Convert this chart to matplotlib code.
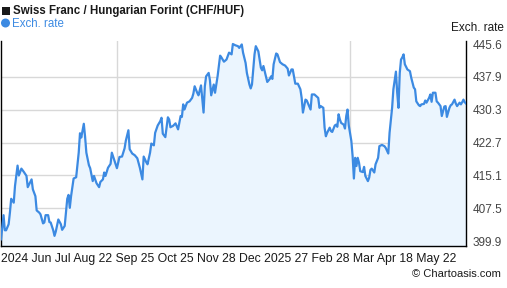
import matplotlib
matplotlib.use("Agg")
import matplotlib.pyplot as plt
from matplotlib.patches import Rectangle, Ellipse
import pandas as pd

plt.rcParams["font.family"] = ["Liberation Sans", "DejaVu Sans"]

TITLE = "Swiss Franc / Hungarian Forint (CHF/HUF)"
SERIES_NAME = "Exch. rate"

dates = [
    "2024-05-22", "2024-05-24", "2024-05-25", "2024-05-26", "2024-05-28", "2024-05-29",
    "2024-05-30", "2024-06-01", "2024-06-02", "2024-06-04", "2024-06-05", "2024-06-07",
    "2024-06-09", "2024-06-11", "2024-06-12", "2024-06-15", "2024-06-16", "2024-06-18",
    "2024-06-19", "2024-06-21", "2024-06-22", "2024-06-24", "2024-06-25", "2024-06-26",
    "2024-06-28", "2024-06-29", "2024-06-30", "2024-07-02", "2024-07-03", "2024-07-04",
    "2024-07-06", "2024-07-08", "2024-07-09", "2024-07-11", "2024-07-13", "2024-07-14",
    "2024-07-15", "2024-07-16", "2024-07-18", "2024-07-20", "2024-07-22", "2024-07-23",
    "2024-07-24", "2024-07-26", "2024-07-27", "2024-07-28", "2024-07-30", "2024-07-31",
    "2024-08-02", "2024-08-03", "2024-08-05", "2024-08-07", "2024-08-08", "2024-08-10",
    "2024-08-11", "2024-08-12", "2024-08-14", "2024-08-16", "2024-08-17", "2024-08-19",
    "2024-08-20", "2024-08-21", "2024-08-23", "2024-08-25", "2024-08-27", "2024-08-28",
    "2024-08-30", "2024-08-31", "2024-09-02", "2024-09-04", "2024-09-06", "2024-09-08",
    "2024-09-10", "2024-09-11", "2024-09-13", "2024-09-14", "2024-09-16", "2024-09-17",
    "2024-09-19", "2024-09-20", "2024-09-22", "2024-09-24", "2024-09-25", "2024-09-26",
    "2024-09-28", "2024-09-30", "2024-10-01", "2024-10-02", "2024-10-04", "2024-10-06",
    "2024-10-08", "2024-10-10", "2024-10-11", "2024-10-12", "2024-10-13", "2024-10-15",
    "2024-10-17", "2024-10-19", "2024-10-20", "2024-10-21", "2024-10-23", "2024-10-24",
    "2024-10-26", "2024-10-28", "2024-10-29", "2024-10-30", "2024-11-01", "2024-11-02",
    "2024-11-03", "2024-11-05", "2024-11-06", "2024-11-08", "2024-11-10", "2024-11-11",
    "2024-11-13", "2024-11-15", "2024-11-17", "2024-11-19", "2024-11-20", "2024-11-22",
    "2024-11-24", "2024-11-25", "2024-11-27", "2024-11-28", "2024-11-30", "2024-12-01",
    "2024-12-03", "2024-12-04", "2024-12-05", "2024-12-07", "2024-12-08", "2024-12-10",
    "2024-12-12", "2024-12-13", "2024-12-14", "2024-12-16", "2024-12-17", "2024-12-19",
    "2024-12-20", "2024-12-21", "2024-12-22", "2024-12-24", "2024-12-25", "2024-12-27",
    "2024-12-29", "2024-12-31", "2025-01-02", "2025-01-03", "2025-01-05", "2025-01-06",
    "2025-01-08", "2025-01-10", "2025-01-12", "2025-01-13", "2025-01-14", "2025-01-16",
    "2025-01-17", "2025-01-20", "2025-01-21", "2025-01-23", "2025-01-26", "2025-01-27",
    "2025-01-28", "2025-01-30", "2025-01-31", "2025-02-01", "2025-02-02", "2025-02-04",
    "2025-02-05", "2025-02-06", "2025-02-08", "2025-02-09", "2025-02-10", "2025-02-11",
    "2025-02-12", "2025-02-13", "2025-02-15", "2025-02-16", "2025-02-17", "2025-02-18",
    "2025-02-19", "2025-02-21", "2025-02-22", "2025-02-23", "2025-02-24", "2025-02-25",
    "2025-02-26", "2025-02-27", "2025-02-28", "2025-03-02", "2025-03-03", "2025-03-04",
    "2025-03-06", "2025-03-07", "2025-03-08", "2025-03-09", "2025-03-11", "2025-03-12",
    "2025-03-14", "2025-03-15", "2025-03-17", "2025-03-19", "2025-03-20", "2025-03-22",
    "2025-03-23", "2025-03-25", "2025-03-26", "2025-03-28", "2025-03-29", "2025-03-30",
    "2025-03-31", "2025-04-01", "2025-04-02", "2025-04-03", "2025-04-04", "2025-04-06",
    "2025-04-08", "2025-04-09", "2025-04-11", "2025-04-12", "2025-04-13", "2025-04-15",
    "2025-04-16", "2025-04-17", "2025-04-19", "2025-04-20", "2025-04-21", "2025-04-23",
    "2025-04-24", "2025-04-25", "2025-04-26", "2025-04-28", "2025-04-29", "2025-04-30",
    "2025-05-02", "2025-05-03", "2025-05-05", "2025-05-06", "2025-05-07", "2025-05-09",
    "2025-05-10", "2025-05-11", "2025-05-13", "2025-05-14", "2025-05-15", "2025-05-17",
    "2025-05-18", "2025-05-19", "2025-05-20", "2025-05-21", "2025-05-22",
]

rates = [
    400.3, 405.9, 402.4, 402.4, 403.8, 406.5,
    409.7, 408.8, 412.7, 417.4, 415.1, 416.7,
    415.9, 415.0, 412.4, 414.2, 411.9, 410.3,
    407.0, 406.5, 406.1, 404.0, 404.2, 405.9,
    405.9, 404.3, 404.2, 402.4, 401.1, 402.1,
    404.9, 403.8, 402.5, 403.4, 409.7, 410.6,
    407.6, 410.3, 414.4, 414.7, 420.4, 424.9,
    423.9, 427.1, 424.1, 420.4, 417.5, 416.8,
    413.8, 415.0, 413.3, 412.4, 413.6, 414.2,
    415.8, 415.0, 416.9, 417.8, 420.4, 418.6,
    417.7, 416.8, 419.4, 419.5, 421.4, 423.2,
    425.6, 421.2, 420.2, 419.8, 419.1, 416.9,
    414.2, 419.5, 418.2, 417.7, 420.4, 422.5,
    422.1, 425.0, 426.7, 427.7, 428.5, 424.8,
    424.0, 428.6, 428.1, 426.3, 426.6, 427.2,
    425.8, 428.9, 428.7, 431.6, 430.4, 432.0,
    432.3, 433.1, 434.1, 435.8, 434.3, 433.7,
    436.0, 429.7, 435.8, 438.1, 438.9, 437.2,
    433.7, 436.2, 434.3, 438.1, 442.9, 442.5,
    441.5, 442.0, 443.6, 443.2, 445.6, 445.3,
    445.1, 444.7, 445.5, 443.6, 441.2, 438.9,
    436.2, 435.3, 436.2, 443.2, 445.1, 443.9,
    440.1, 439.5, 440.5, 438.1, 436.8, 437.5,
    438.1, 437.5, 440.9, 443.4, 443.2, 441.4,
    440.9, 440.6, 439.9, 438.3, 439.7, 439.7,
    436.4, 436.4, 435.1, 433.1, 429.7, 432.7,
    432.5, 430.4, 433.9, 433.9, 433.1, 430.8,
    431.2, 430.8, 426.2, 424.2, 425.0, 426.2,
    425.4, 425.2, 426.7, 426.9, 426.4, 429.3,
    428.1, 427.3, 426.9, 426.0, 428.9, 430.4,
    426.7, 423.1, 419.6, 414.4, 419.2, 417.3,
    419.2, 418.1, 416.1, 415.9, 417.1, 415.0,
    413.8, 414.6, 416.4, 416.7, 415.8, 417.7,
    419.2, 421.9, 422.2, 421.9, 421.5, 420.2,
    425.0, 430.8, 435.1, 439.2, 434.3, 430.8,
    438.9, 442.0, 442.5, 443.2, 440.9, 439.7,
    439.3, 437.8, 435.5, 435.1, 432.3, 431.4,
    431.2, 431.6, 431.7, 432.5, 432.0, 433.1,
    433.9, 432.2, 434.3, 434.3, 432.3, 432.0,
    431.2, 428.9, 431.1, 431.2, 428.7, 430.8,
    431.4, 431.6, 432.7, 431.8, 431.2, 432.0,
    431.6, 432.1, 432.7, 432.1, 431.8,
]

y_ticks = [399.9, 407.52, 415.13, 422.75, 430.37, 437.98, 445.6]
y_tick_labels = ["399.9", "407.5", "415.1", "422.7", "430.3", "437.9", "445.6"]
v_grid_dates = ["2024-08-21", "2025-02-20"]
x_labels = ["2024", "Jun", "Jul", "Aug", "22", "Sep", "25", "Oct", "25", "Nov", "28",
            "Dec", "2025", "27", "Feb", "28", "Mar", "Apr", "18", "May", "22"]

LINE = "#3c8ae2"
FILL = "#ebf5fe"
W, H = 507, 288

x = pd.to_datetime(dates)

fig = plt.figure(figsize=(W / 100, H / 100), dpi=100)
ax = fig.add_axes([1 / W, 1 - 246 / H, 465 / W, 205 / H])

ax.set_ylim(398.75, 446.3)
ax.set_xlim(x[0], x[-1])

ax.fill_between(x, rates, ax.get_ylim()[0], color=FILL, lw=0, zorder=1)
ax.plot(x, rates, color=LINE, lw=1.6, zorder=3, solid_joinstyle="round")

# grid: horizontal only at inner ticks, plus two vertical lines
for t in y_ticks[1:-1]:
    ax.axhline(t, color="#d8d8d8", lw=1, zorder=0.5)
for d in pd.to_datetime(v_grid_dates):
    ax.axvline(d, color="#d8d8d8", lw=1, zorder=0.5)

ax.spines["top"].set_visible(False)
for s in ("left", "right", "bottom"):
    ax.spines[s].set_color("black")
    ax.spines[s].set_linewidth(1)

ax.yaxis.tick_right()
ax.set_yticks(y_ticks)
ax.set_yticklabels(y_tick_labels)
ax.tick_params(axis="y", length=0, pad=5, labelsize=8.5, labelcolor="#444444")
ax.set_xticks([])

# header: black square + title, blue dot + series name
fig.add_artist(Rectangle((2 / W, 1 - 15 / H), 8 / W, 8 / H, transform=fig.transFigure,
                         color="#1a1a1a", lw=0))
fig.text(13 / W, 1 - 11 / H, TITLE, fontsize=8.3, fontweight="bold", color="#1a1a1a",
         va="center", ha="left")
fig.add_artist(Ellipse((5.5 / W, 1 - 23 / H), 9 / W, 9 / H, transform=fig.transFigure,
                       color=LINE, lw=0))
fig.text(12 / W, 1 - 24 / H, SERIES_NAME, fontsize=8.3, color=LINE, va="center", ha="left")
fig.text(504 / W, 1 - 28 / H, SERIES_NAME, fontsize=8.5, color="#1a1a1a",
         va="center", ha="right")

# x labels are packed from the left edge, as in the source image
fig.text(1 / W, 1 - 259 / H, " ".join(x_labels), fontsize=8.8, color="#1a1a1a",
         va="center", ha="left")

fig.text(501 / W, 1 - 274 / H, "\u00a9 Chartoasis.com", fontsize=8, color="#1a1a1a",
         va="center", ha="right")

fig.savefig("out.png", dpi=100)
